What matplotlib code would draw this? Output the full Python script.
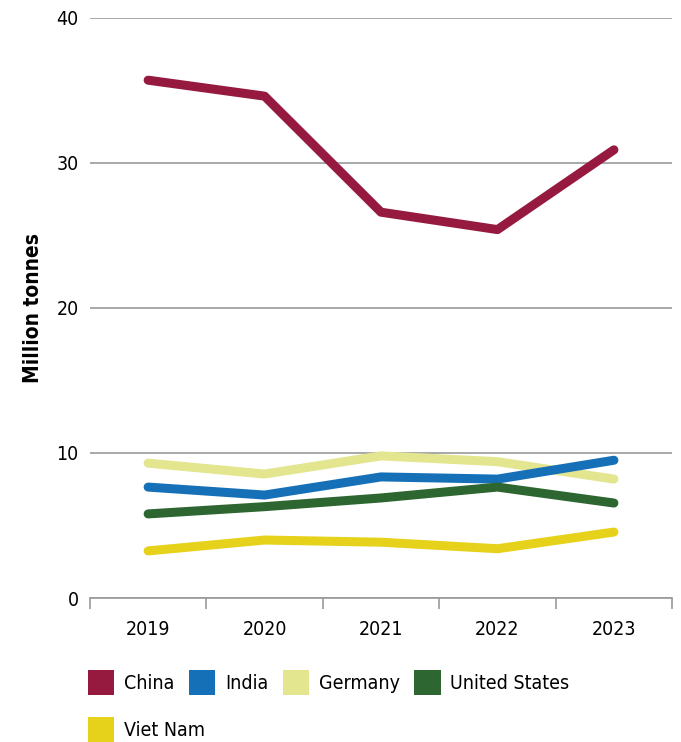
import matplotlib.pyplot as plt
from matplotlib.patches import Patch
import numpy as np

plt.rcParams['font.family'] = ['DejaVu Sans']
plt.rcParams['font.stretch'] = 'condensed'

# Data (million tonnes)
years = ['2019', '2020', '2021', '2022', '2023']
china = [35.7, 34.6, 26.6, 25.4, 30.9]
india = [7.65, 7.1, 8.35, 8.2, 9.5]
germany = [9.3, 8.55, 9.8, 9.4, 8.2]
us = [5.8, 6.3, 6.9, 7.65, 6.55]
vietnam = [3.25, 4.0, 3.85, 3.4, 4.55]

names = ['China', 'India', 'Germany', 'United States', 'Viet Nam']
colors = ['#961A40', '#1570B8', '#E3E58F', '#2D6630', '#E6D21A']
series = [china, india, germany, us, vietnam]

fig = plt.figure(figsize=(6.81, 7.42), dpi=100)
ax = fig.add_axes([0.132, 0.194, 0.855, 0.782])

x = np.arange(len(years))
order = [2, 1, 3, 4, 0]
for i in order:
    ax.plot(x, series[i], color=colors[i], lw=6.5, solid_capstyle='round',
            solid_joinstyle='round', zorder=3)

ax.set_xlim(-0.5, 4.5)
ax.set_ylim(0, 40)
ax.set_yticks([0, 10, 20, 30, 40])
ax.yaxis.grid(True, color='#999999', lw=1.2)
ax.set_axisbelow(True)
for s in ['top', 'right', 'left']:
    ax.spines[s].set_visible(False)
ax.spines['bottom'].set_color('#999999')
ax.spines['bottom'].set_linewidth(1.2)
ax.tick_params(axis='y', length=0, labelsize=14, pad=8)
ax.set_xticks(np.arange(-0.5, 5, 1))
ax.set_xticklabels([])
ax.set_xticks(x, minor=True)
ax.set_xticklabels(years, minor=True)
ax.tick_params(axis='x', which='major', length=8, color='#999999', width=1.2, direction='out')
ax.tick_params(axis='x', which='minor', length=0, labelsize=14, pad=16)
ax.set_ylabel('Million tonnes', fontsize=15, fontweight='bold')
ax.yaxis.set_label_coords(-0.08, 0.5)

handles = [Patch(facecolor=c, edgecolor='none') for c in colors]
leg1 = fig.legend(handles[:4], names[:4], loc='upper left', bbox_to_anchor=(0.118, 0.108),
                  ncol=4, frameon=False, fontsize=14, handlelength=1.35, handleheight=1.6,
                  handletextpad=0.5, columnspacing=0.75, borderaxespad=0)
leg2 = fig.legend(handles[4:], names[4:], loc='upper left', bbox_to_anchor=(0.118, 0.044),
                  ncol=1, frameon=False, fontsize=14, handlelength=1.35, handleheight=1.6,
                  handletextpad=0.5, borderaxespad=0)

fig.savefig('out.png', dpi=100)
